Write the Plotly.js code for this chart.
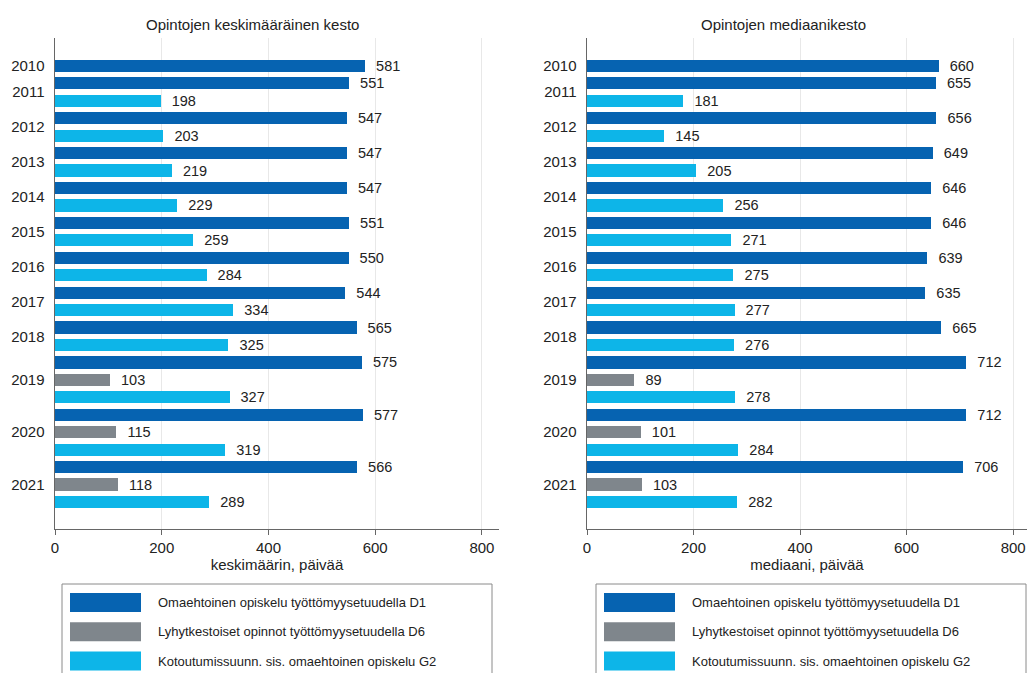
<!DOCTYPE html>
<html>
<head>
<meta charset="utf-8">
<script src="https://cdn.plot.ly/plotly-3.0.1.min.js"></script>
<style>
  html, body { margin: 0; padding: 0; background: #fff; }
  #chart { width: 1027px; height: 673px; }
</style>
</head>
<body>
<div id="chart"></div>
<script>
const years = [2010, 2011, 2012, 2013, 2014, 2015, 2016, 2017, 2018, 2019, 2020, 2021];

const seriesNames = [
  'Omaehtoinen opiskelu työttömyysetuudella D1',
  'Lyhytkestoiset opinnot työttömyysetuudella D6',
  'Kotoutumissuunn. sis. omaehtoinen opiskelu G2'
];
const seriesColors = ['#0663b1', '#7f868c', '#0db5e8'];

// keskimääräinen kesto (päivää)
const meanD1 = [581, 551, 547, 547, 547, 551, 550, 544, 565, 575, 577, 566];
const meanD6 = [null, null, null, null, null, null, null, null, null, 103, 115, 118];
const meanG2 = [null, 198, 203, 219, 229, 259, 284, 334, 325, 327, 319, 289];

// mediaanikesto (päivää)
const medD1 = [660, 655, 656, 649, 646, 646, 639, 635, 665, 712, 712, 706];
const medD6 = [null, null, null, null, null, null, null, null, null, 89, 101, 103];
const medG2 = [null, 181, 145, 205, 256, 271, 275, 277, 276, 278, 284, 282];

const fontFamily = '"Liberation Sans", Arial, sans-serif';

// one row per existing bar, years grouped without gaps
function buildRows(seriesList) {
  const rows = seriesList.map(() => []);
  const tickVals = [];
  let row = 0;
  years.forEach((yr, i) => {
    const first = row;
    seriesList.forEach((s, k) => {
      if (s[i] !== null) {
        rows[k].push({ row: row, value: s[i] });
        row++;
      }
    });
    tickVals.push((first + row - 1) / 2);
  });
  return { rows, tickVals, count: row };
}

const meanRows = buildRows([meanD1, meanD6, meanG2]);
const medRows = buildRows([medD1, medD6, medG2]);

function barTraces(layoutRows, xa, ya) {
  return layoutRows.rows.map((pts, k) => ({
    type: 'bar',
    orientation: 'h',
    x: pts.map(p => p.value),
    y: pts.map(p => p.row),
    xaxis: xa,
    yaxis: ya,
    width: 0.7,
    name: seriesNames[k],
    showlegend: false,
    marker: { color: seriesColors[k], line: { width: 0 } },
    text: pts.map(p => '\u00a0\u00a0' + p.value),
    textposition: 'outside',
    constraintext: 'none',
    textfont: { family: fontFamily, size: 14.5, color: '#222' },
    cliponaxis: false,
    hoverinfo: 'x'
  }));
}

const data = [
  ...barTraces(meanRows, 'x', 'y'),
  ...barTraces(medRows, 'x2', 'y2')
];

function xAxis(domain, range, title, anchor) {
  return {
    domain: domain,
    range: range,
    anchor: anchor,
    tickvals: [0, 200, 400, 600, 800],
    showgrid: true,
    gridcolor: '#e8e8e8',
    gridwidth: 1,
    zeroline: false,
    showline: true,
    linecolor: '#666',
    linewidth: 1.5,
    ticks: 'outside',
    ticklen: 5,
    tickcolor: '#666',
    tickfont: { family: fontFamily, size: 15, color: '#222' },
    title: { text: title, font: { family: fontFamily, size: 15, color: '#222' }, standoff: 0 }
  };
}

function yAxis(layoutRows, anchor) {
  return {
    domain: [0.214, 0.9435],
    anchor: anchor,
    range: [layoutRows.count - 1 + 1.55, -1.6],
    tickvals: layoutRows.tickVals,
    ticktext: years.map(String),
    ticks: '',
    ticklabelstandoff: 6,
    showgrid: false,
    zeroline: false,
    showline: true,
    linecolor: '#666',
    linewidth: 1.5,
    tickfont: { family: fontFamily, size: 15, color: '#222' }
  };
}

// legend boxes drawn in paper space
const shapes = [];
const annotations = [
  {
    text: 'Opintojen keskimääräinen kesto', xref: 'paper', yref: 'paper',
    x: 252 / 1027, y: 1 - 25 / 673, showarrow: false, xanchor: 'center', yanchor: 'middle',
    font: { family: fontFamily, size: 15, color: '#222' }
  },
  {
    text: 'Opintojen mediaanikesto', xref: 'paper', yref: 'paper',
    x: 783 / 1027, y: 1 - 25 / 673, showarrow: false, xanchor: 'center', yanchor: 'middle',
    font: { family: fontFamily, size: 15, color: '#222' }
  }
];

[62, 596].forEach(left => {
  const px = v => v / 1027;
  const py = v => 1 - v / 673;
  shapes.push({
    type: 'rect', xref: 'paper', yref: 'paper',
    x0: px(left), x1: px(left + 430), y0: py(690), y1: py(584),
    line: { color: '#8a8a8a', width: 1 }, fillcolor: '#fff', layer: 'below'
  });
  seriesNames.forEach((name, k) => {
    const cy = 602.5 + k * 29.3;
    shapes.push({
      type: 'rect', xref: 'paper', yref: 'paper',
      x0: px(left + 8), x1: px(left + 79), y0: py(cy + 9.5), y1: py(cy - 9.5),
      line: { width: 0 }, fillcolor: seriesColors[k]
    });
    annotations.push({
      text: name, xref: 'paper', yref: 'paper',
      x: px(left + 94), y: py(cy), xanchor: 'left', yanchor: 'middle', showarrow: false,
      font: { family: fontFamily, size: 13, color: '#222' }
    });
  });
});

const layout = {
  width: 1027,
  height: 673,
  margin: { l: 0, r: 0, t: 0, b: 0 },
  paper_bgcolor: '#fff',
  plot_bgcolor: '#fff',
  showlegend: false,
  bargap: 0,
  xaxis: xAxis([55 / 1027, 499 / 1027], [0, 832], 'keskimäärin, päivää', 'y'),
  yaxis: yAxis(meanRows, 'x'),
  xaxis2: xAxis([587 / 1027, 1], [0, 826], 'mediaani, päivää', 'y2'),
  yaxis2: yAxis(medRows, 'x2'),
  shapes: shapes,
  annotations: annotations
};

Plotly.newPlot('chart', data, layout, { displayModeBar: false, staticPlot: true });
</script>
</body>
</html>
